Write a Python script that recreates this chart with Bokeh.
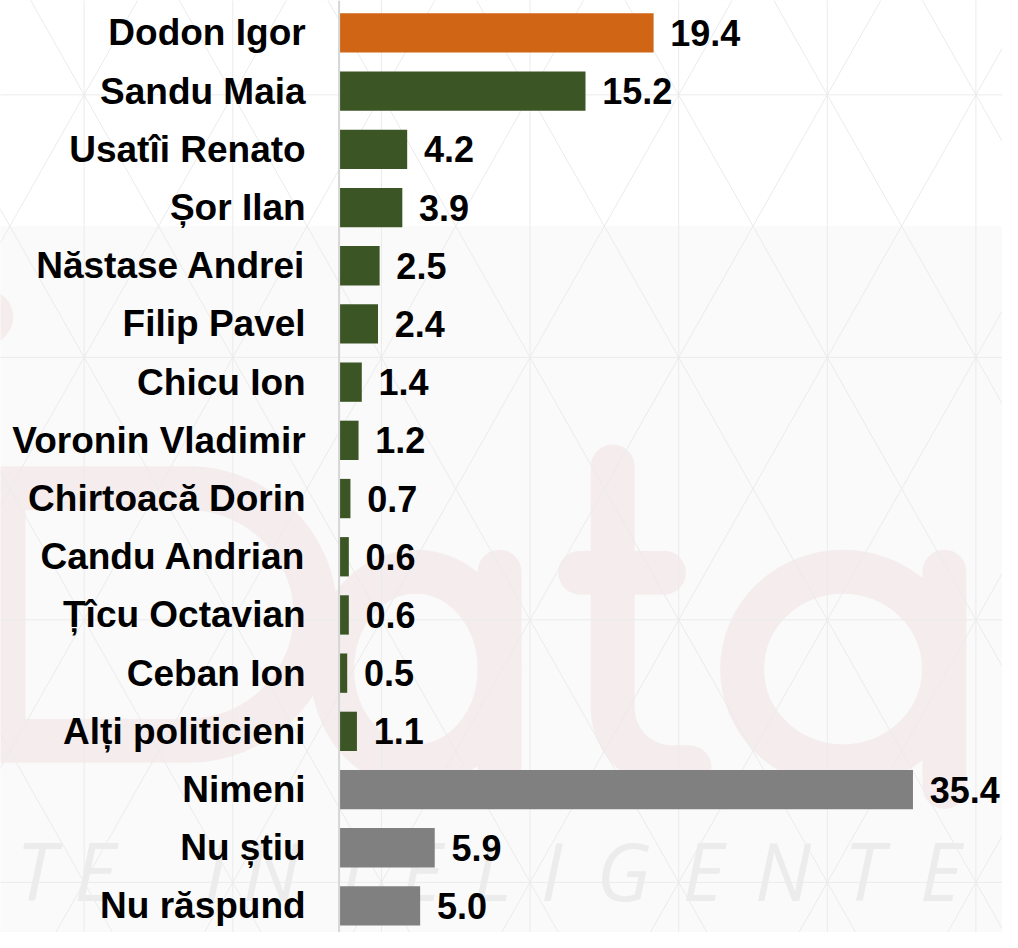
import numpy as np
from bokeh.plotting import figure
from bokeh.models import ColumnDataSource, Range1d, Span
from bokeh.core.properties import value
from bokeh.embed import file_html
from bokeh.resources import INLINE

# ---------------- data ----------------
categories = ["Dodon Igor", "Sandu Maia", "Usatîi Renato", "Șor Ilan", "Năstase Andrei",
              "Filip Pavel", "Chicu Ion", "Voronin Vladimir", "Chirtoacă Dorin",
              "Candu Andrian", "Țîcu Octavian", "Ceban Ion", "Alți politicieni",
              "Nimeni", "Nu știu", "Nu răspund"]
values = [19.4, 15.2, 4.2, 3.9, 2.5, 2.4, 1.4, 1.2, 0.7, 0.6, 0.6, 0.5, 1.1, 35.4, 5.9, 5.0]
groups = ["lead"] + ["politician"] * 12 + ["other"] * 3
value_labels = [f"{v:.1f}" for v in values]

group_colors = {"lead": "#CF6515", "politician": "#3C5524", "other": "#808080"}

# ---------------- geometry ----------------
W, H = 1002, 932            # figure size (fits the window with 8px margins)
REF_W, REF_H = 1018, 948    # design grid
SX, SY = W / REF_W, H / REF_H
AXIS_X = 344                # design x of the value axis
ROW0_Y = 33                 # design y of first row centre
ROW_STEP = 59.2             # design px per row
PX_PER_UNIT = 16.47         # design px per percentage point

def xd(px):
    return (px - AXIS_X) / PX_PER_UNIT

def yd(py):
    return (py - ROW0_Y) / ROW_STEP

p = figure(width=W, height=H, output_backend="svg", toolbar_location=None,
           x_range=Range1d(xd(0), xd(REF_W)),
           y_range=Range1d(yd(REF_H), yd(0)),
           min_border=0, background_fill_color="#fafafa",
           border_fill_color="#fafafa", outline_line_color=None)
p.axis.visible = False
p.grid.visible = False

# ---------------- background decoration ----------------
p.quad(left=[xd(-200)], right=[xd(1300)], top=[yd(-200)], bottom=[yd(229.5)],
       fill_color="white", line_color=None)

# watermark "iData" (rounded strokes)
WM = "#f5eded"
SW = 44
wm = dict(line_color=WM, line_width=SW, line_cap="round", line_join="round")
wm_ring = dict(line_color=WM, line_width=SW)
# i dot
p.circle(x=[xd(-15)], y=[yd(322)], radius=28 / PX_PER_UNIT, fill_color=WM, line_color=None)
# D
th = np.linspace(-np.pi / 2, np.pi / 2, 60)
dx = [3, 190] + list(190 + 130 * np.cos(th)) + [190, 3, 3]
dy = [496, 496] + list(624.5 + 128.5 * np.sin(th)) + [753, 753, 496]
p.line(x=[xd(v) for v in dx], y=[yd(v) for v in dy], **wm)
# a (first)
p.ellipse(x=[xd(422)], y=[yd(680)], width=[170 * SX], height=[198 * SY],
          width_units="screen", height_units="screen", fill_color=None, **wm_ring)
p.line(x=[xd(507), xd(507)], y=[yd(581), yd(800)], **wm)
# t
th2 = np.linspace(np.pi, np.pi / 2, 20)
tx = [622, 622] + list(682 + 60 * np.cos(th2)) + [700]
ty = [474, 720] + list(720 + 60 * np.sin(th2)) + [780]
p.line(x=[xd(v) for v in tx], y=[yd(v) for v in ty], **wm)
p.line(x=[xd(589), xd(674)], y=[yd(582), yd(582)], **wm)
# a (second)
p.ellipse(x=[xd(856)], y=[yd(680)], width=[205 * SX], height=[198 * SY],
          width_units="screen", height_units="screen", fill_color=None, **wm_ring)
p.line(x=[xd(959), xd(959)], y=[yd(581), yd(800)], **wm)

# triangular lattice
VX0, VSTEP = 689, 151
HY0, HSTEP = 363, 267
slope = (VSTEP / 2) / (HSTEP / 2)
x0s, y0s, x1s, y1s = [], [], [], []
for k in range(-6, 8):
    xv = VX0 + VSTEP * k
    x0s.append(xd(xv)); y0s.append(yd(-100)); x1s.append(xd(xv)); y1s.append(yd(1100))
for n in range(-2, 4):
    yh = HY0 + HSTEP * n
    x0s.append(xd(-200)); y0s.append(yd(yh)); x1s.append(xd(1300)); y1s.append(yd(yh))
for k in range(-12, 16):
    xb = VX0 + VSTEP * k
    for sgn in (1, -1):
        ya, yb = -100, 1100
        xa = xb + sgn * (HY0 - ya) * slope
        xbb = xb + sgn * (HY0 - yb) * slope
        x0s.append(xd(xa)); y0s.append(yd(ya)); x1s.append(xd(xbb)); y1s.append(yd(yb))
p.segment(x0=x0s, y0=y0s, x1=x1s, y1=y1s, line_color="#ebebeb", line_width=1)

# watermark "INTELIGENTE"
wm2_letters = list("TEINTELIGENTE")
wm2_x = [36, 96, 218, 275, 357, 428, 500, 560, 633, 714, 795, 877, 955]
p.text(x=[xd(v) for v in wm2_x], y=[yd(884)] * len(wm2_letters), text=wm2_letters,
       text_font=value("Open Sans"), text_font_style="italic", text_font_size="80px",
       text_align="center", text_baseline="middle", text_color="#ececec")

# ---------------- bars ----------------
src = ColumnDataSource(dict(
    y=list(range(len(categories))),
    cat=categories,
    val=values,
    lab=value_labels,
    color=[group_colors[g] for g in groups],
))

p.hbar(y="y", left=0, right="val", height=40 / ROW_STEP, fill_color="color",
       line_color=None, source=src)

p.add_layout(Span(location=0, dimension="height", line_color="#d6d6d6", line_width=2))

p.text(x="val", y="y", text="lab", source=src, x_offset=17 * SX,
       text_font=value("Liberation Sans"), text_font_style="bold", text_font_size="36px",
       text_align="left", text_baseline="middle", text_color="black")

p.text(x=0, y="y", text="cat", source=src, x_offset=-34 * SX,
       text_font=value("Liberation Sans"), text_font_style="bold", text_font_size="37px",
       text_align="right", text_baseline="middle", text_color="black")

open("out.html", "w").write(file_html(p, INLINE))
